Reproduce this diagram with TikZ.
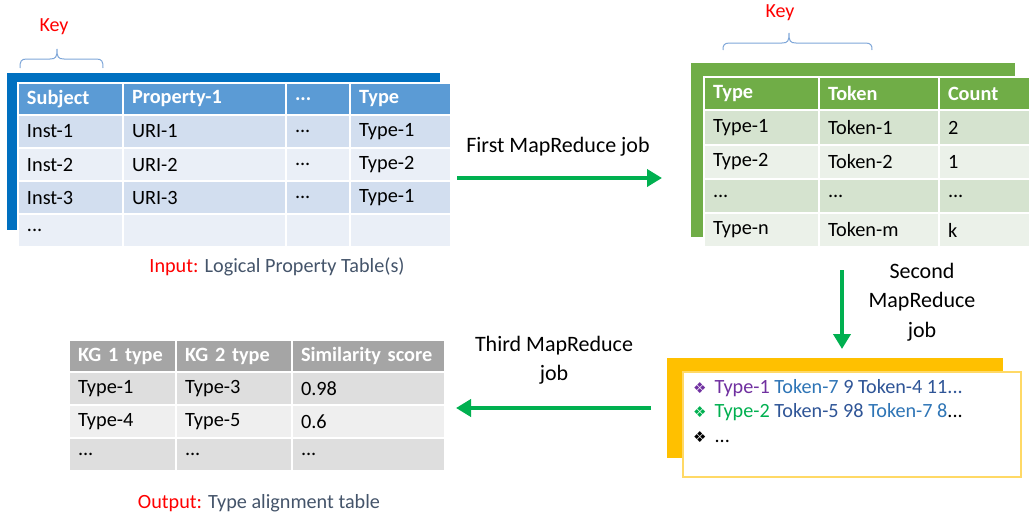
\documentclass[tikz,border=0pt]{standalone}
\usepackage{fontspec}
\setmainfont{Carlito}
\newfontfamily\dejavu{DejaVu Sans}
\usetikzlibrary{arrows.meta}
\definecolor{bBack}{HTML}{0070C0}
\definecolor{bHead}{HTML}{5B9BD5}
\definecolor{bRowA}{HTML}{D2DEEF}
\definecolor{bRowB}{HTML}{EAEFF7}
\definecolor{gBack}{HTML}{70AD47}
\definecolor{gHead}{HTML}{70AD47}
\definecolor{gRowA}{HTML}{D5E3CF}
\definecolor{gRowB}{HTML}{EBF1E9}
\definecolor{kHead}{HTML}{A5A5A5}
\definecolor{kRowA}{HTML}{DEDEDE}
\definecolor{kRowB}{HTML}{EFEFEF}
\definecolor{yBack}{HTML}{FFC000}
\definecolor{yEdge}{HTML}{FFD966}
\definecolor{arrowGreen}{HTML}{00B050}
\definecolor{keyRed}{HTML}{FF0000}
\definecolor{capGray}{HTML}{44546A}
\definecolor{braceBlue}{HTML}{7EA6D8}
\definecolor{tokLight}{HTML}{2E75B6}
\definecolor{tokDark}{HTML}{2F5597}
\definecolor{typePurple}{HTML}{7030A0}
\definecolor{typeGreen}{HTML}{00B050}
\newcommand\tcell[7]{%
  \pgfmathsetmacro\tcw{#4-18}%
  \node[cellbase,fill=#6,minimum width=#4pt,text width=\tcw pt,minimum height=#5pt] (#1) at (#2,#3) {#7};}
\newcommand\hd[1]{\textbf{\color{white}#1}}
\newcommand\bulfont{\dejavu\fontsize{15}{17}\selectfont}
\begin{document}
\begin{tikzpicture}[x=1pt,y=-1pt,
  cellbase/.style={anchor=north west,draw=white,line width=2pt,outer sep=0pt,
    inner xsep=9pt,inner ysep=0pt,align=left,font=\fontsize{20.3}{23}\selectfont},
  backbox/.style={anchor=north west,outer sep=0pt,inner sep=0pt},
  flow/.style={draw=arrowGreen,line width=4.5pt,-{Triangle[length=15pt,width=17pt]}},
  lbl/.style={font=\fontsize{22}{29.5}\selectfont,align=center,text=black},
  keytext/.style={font=\fontsize{20}{23}\selectfont,text=keyRed},
  captext/.style={font=\fontsize{20.2}{23}\selectfont},
  brace/.style={draw=braceBlue,line width=1pt},
  yline/.style={anchor=west,font=\fontsize{20.2}{23}\selectfont,inner sep=0pt}]
\useasboundingbox (0,0) rectangle (1029,517);

% ---------- Table 1 (input) ----------
\node[backbox,fill=bBack,minimum width=433pt,minimum height=157pt] (t1back) at (7,73) {};
\tcell{t1h1}{18}{83}{105}{32}{bHead}{\hd{Subject}}
\tcell{t1h2}{123}{83}{163}{32}{bHead}{\hd{Property-1}}
\tcell{t1h3}{286}{83}{64}{32}{bHead}{\hd{...}}
\tcell{t1h4}{350}{83}{101}{32}{bHead}{\hd{Type}}
\tcell{t1a1}{18}{115}{105}{33}{bRowA}{Inst-1}
\tcell{t1a2}{123}{115}{163}{33}{bRowA}{URI-1}
\tcell{t1a3}{286}{115}{64}{33}{bRowA}{...}
\tcell{t1a4}{350}{115}{101}{33}{bRowA}{Type-1}
\tcell{t1b1}{18}{148}{105}{33}{bRowB}{Inst-2}
\tcell{t1b2}{123}{148}{163}{33}{bRowB}{URI-2}
\tcell{t1b3}{286}{148}{64}{33}{bRowB}{...}
\tcell{t1b4}{350}{148}{101}{33}{bRowB}{Type-2}
\tcell{t1c1}{18}{181}{105}{33}{bRowA}{Inst-3}
\tcell{t1c2}{123}{181}{163}{33}{bRowA}{URI-3}
\tcell{t1c3}{286}{181}{64}{33}{bRowA}{...}
\tcell{t1c4}{350}{181}{101}{33}{bRowA}{Type-1}
\tcell{t1d1}{18}{214}{105}{33}{bRowB}{...}
\tcell{t1d2}{123}{214}{163}{33}{bRowB}{}
\tcell{t1d3}{286}{214}{64}{33}{bRowB}{}
\tcell{t1d4}{350}{214}{101}{33}{bRowB}{}
\node[keytext] (key1) at (54,27) {Key};
\draw[brace] (20,68) .. controls (20,61) and (21,59) .. (27,59) -- (50,59)
  .. controls (56,59) and (57,57) .. (57,49)
  .. controls (57,57) and (58,59) .. (64,59) -- (96,59)
  .. controls (102,59) and (103,61) .. (103,68);
\node[captext] (cap1) at (277,267) {\textcolor{keyRed}{Input:} \textcolor{capGray}{Logical Property Table(s)}};

% ---------- Table 2 (type/token/count) ----------
\node[backbox,fill=gBack,minimum width=324pt,minimum height=174pt] (t2back) at (691,63) {};
\tcell{t2h1}{704}{77}{115}{33}{gHead}{\hd{Type}}
\tcell{t2h2}{819}{77}{120}{33}{gHead}{\hd{Token}}
\tcell{t2h3}{939}{77}{92}{33}{gHead}{\hd{Count}}
\tcell{t2a1}{704}{110}{115}{35}{gRowA}{Type-1}
\tcell{t2a2}{819}{110}{120}{35}{gRowA}{Token-1}
\tcell{t2a3}{939}{110}{92}{35}{gRowA}{2}
\tcell{t2b1}{704}{145}{115}{34}{gRowB}{Type-2}
\tcell{t2b2}{819}{145}{120}{34}{gRowB}{Token-2}
\tcell{t2b3}{939}{145}{92}{34}{gRowB}{1}
\tcell{t2c1}{704}{179}{115}{34}{gRowA}{...}
\tcell{t2c2}{819}{179}{120}{34}{gRowA}{...}
\tcell{t2c3}{939}{179}{92}{34}{gRowA}{...}
\tcell{t2d1}{704}{213}{115}{34}{gRowB}{Type-n}
\tcell{t2d2}{819}{213}{120}{34}{gRowB}{Token-m}
\tcell{t2d3}{939}{213}{92}{34}{gRowB}{k}
\node[keytext] (key2) at (780,13) {Key};
\draw[brace] (723,50) .. controls (723,45) and (724,43) .. (730,43) -- (782,43)
  .. controls (788,43) and (789,41) .. (789,33)
  .. controls (789,41) and (790,43) .. (796,43) -- (865,43)
  .. controls (871,43) and (872,45) .. (872,50);

% ---------- Yellow box ----------
\node[backbox,fill=yBack,minimum width=336pt,minimum height=100pt] (yback) at (667,358) {};
\node[backbox,fill=white,draw=yEdge,line width=1.5pt,minimum width=338pt,minimum height=105pt] (yfront) at (683,372) {};
\node[yline] (y1) at (693,388) {{\bulfont\color{typePurple}❖}\hspace{8pt}{\color{typePurple}Type-1} {\color{tokLight}Token-7} {\color{tokDark}9 Token-4 11...}};
\node[yline] (y2) at (693,412) {{\bulfont\color{typeGreen}❖}\hspace{8pt}{\color{typeGreen}Type-2} {\color{tokDark}Token-5 98} {\color{tokLight}Token-7 8}...};
\node[yline] (y3) at (693,437) {{\bulfont\color{black}❖}\hspace{8pt}...};

% ---------- Table 3 (output) ----------
\tcell{t3h1}{69}{340}{107}{32}{kHead}{\hd{KG 1 type}}
\tcell{t3h2}{176}{340}{116}{32}{kHead}{\hd{KG 2 type}}
\tcell{t3h3}{292}{340}{153}{32}{kHead}{\hd{Similarity score}}
\tcell{t3a1}{69}{372}{107}{33}{kRowA}{Type-1}
\tcell{t3a2}{176}{372}{116}{33}{kRowA}{Type-3}
\tcell{t3a3}{292}{372}{153}{33}{kRowA}{0.98}
\tcell{t3b1}{69}{405}{107}{33}{kRowB}{Type-4}
\tcell{t3b2}{176}{405}{116}{33}{kRowB}{Type-5}
\tcell{t3b3}{292}{405}{153}{33}{kRowB}{0.6}
\tcell{t3c1}{69}{438}{107}{33}{kRowA}{...}
\tcell{t3c2}{176}{438}{116}{33}{kRowA}{...}
\tcell{t3c3}{292}{438}{153}{33}{kRowA}{...}
\node[captext] (cap3) at (259,503) {\textcolor{keyRed}{Output:} \textcolor{capGray}{Type alignment table}};

% ---------- Arrows and labels ----------
\coordinate (a1s) at (457,178);
\coordinate (a1e) at (662,178);
\draw[flow] (a1s) -- (a1e);
\node[lbl] (l1) at (558,147) {First MapReduce job};
\coordinate (a2s) at (842,270);
\coordinate (a2e) at (842,349);
\draw[flow] (a2s) -- (a2e);
\node[lbl] (l2) at (922,302) {Second\\MapReduce\\job};
\coordinate (a3s) at (651,408);
\coordinate (a3e) at (456,408);
\draw[flow] (a3s) -- (a3e);
\node[lbl] (l3) at (554,360) {Third MapReduce\\job};
\end{tikzpicture}
\end{document}
